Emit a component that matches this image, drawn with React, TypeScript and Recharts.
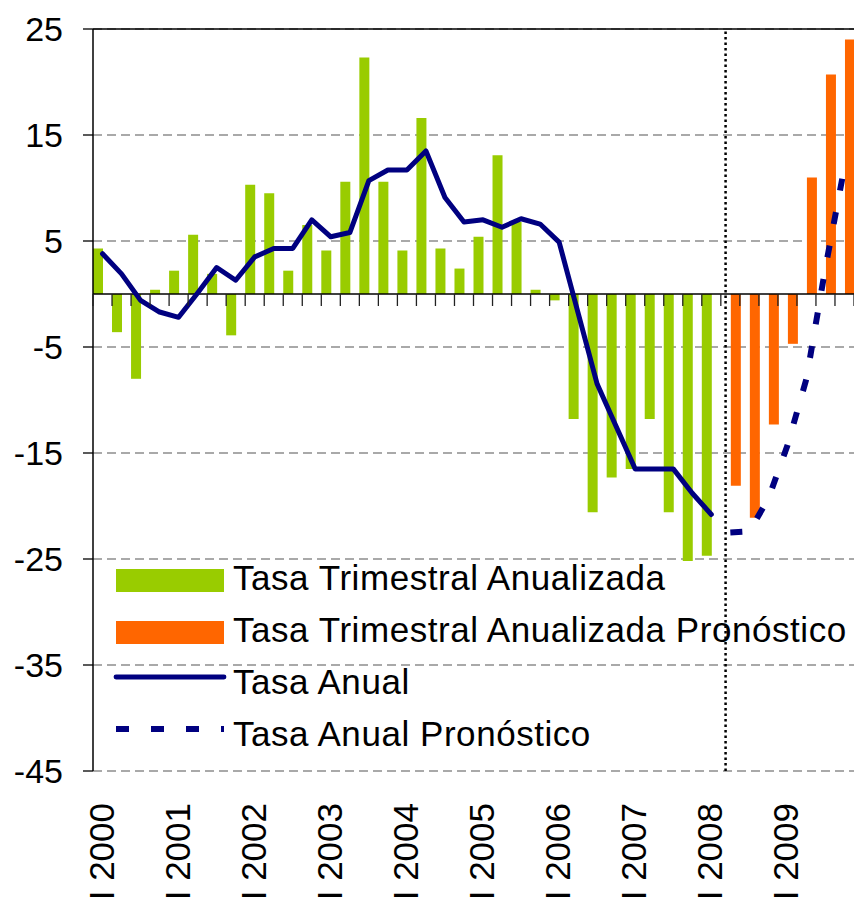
import React from 'react';
import { ComposedChart, Bar, Line, XAxis, YAxis, CartesianGrid, ReferenceLine } from 'recharts';

const FONT = '"Liberation Sans", Arial, sans-serif';

const years = [2000, 2001, 2002, 2003, 2004, 2005, 2006, 2007, 2008, 2009];
const quarterNames = ['I', 'II', 'III', 'IV'];
const categories = years.flatMap((y) => quarterNames.map((q) => `${q} ${y}`));

// Tasa Trimestral Anualizada (historical, 2000 I – 2008 I)
const tasaTrimestral = [
  4.3, -3.6, -8.0, 0.4, 2.2, 5.6, 1.9, -3.9, 10.3, 9.5, 2.2, 6.5, 4.1, 10.6, 22.3, 10.6,
  4.1, 16.6, 4.3, 2.4, 5.4, 13.1, 6.8, 0.4, -0.6, -11.8, -20.6, -17.3, -16.5, -11.8, -20.6,
  -25.2, -24.7,
];
// Tasa Trimestral Anualizada Pronóstico (2008 II – 2009 IV)
const tasaTrimestralPron = [-18.1, -21.1, -12.3, -4.7, 11.0, 20.7, 24.0];
// Tasa Anual (historical)
const tasaAnual = [
  3.8, 1.9, -0.6, -1.7, -2.2, 0.1, 2.5, 1.3, 3.5, 4.3, 4.3, 7.0, 5.4, 5.8, 10.7, 11.7,
  11.7, 13.5, 9.1, 6.8, 7.0, 6.3, 7.1, 6.6, 4.9, -1.8, -8.5, -12.5, -16.5, -16.5, -16.5,
  -18.8, -20.8,
];
// Tasa Anual Pronóstico
const tasaAnualPron = [-22.5, -22.4, -19.3, -14.3, -8.0, 2.5, 12.0];

const yTicks = [-45, -35, -25, -15, -5, 5, 15, 25];
const forecastSeparator = 33.25; // on the category-index scale

const histCount = tasaTrimestral.length;

const data = categories.map((cat, i) => ({
  cat,
  pos: i + 0.5,
  trim: i < histCount ? tasaTrimestral[i] : null,
  trimP: i >= histCount ? tasaTrimestralPron[i - histCount] : null,
  anual: i < histCount ? tasaAnual[i] : null,
  anualP: i >= histCount ? tasaAnualPron[i - histCount] : null,
  zero: 0,
}));

const legendItems = [
  { label: 'Tasa Trimestral Anualizada', kind: 'rect', color: '#99CC00' },
  { label: 'Tasa Trimestral Anualizada Pronóstico', kind: 'rect', color: '#FF6600' },
  { label: 'Tasa Anual', kind: 'line', color: '#000080' },
  { label: 'Tasa Anual Pronóstico', kind: 'dash', color: '#000080' },
];

const XTick = (props: any) => {
  const { x, y, payload } = props;
  return (
    <text
      x={0}
      y={0}
      transform={`translate(${x + 11},${y + 32}) rotate(-90)`}
      textAnchor="end"
      fontSize={35}
      fontFamily={FONT}
      fill="#000"
    >
      {payload.value}
    </text>
  );
};

// Category-boundary tick marks hanging below the zero axis line
const ZeroDot = (props: any) => {
  const { cx, cy, index, points } = props;
  if (cx == null || cy == null || !points || points.length < 2) return null;
  const step = points[1].x - points[0].x;
  const xs = [cx - step / 2];
  if (index === points.length - 1) xs.push(cx + step / 2);
  return (
    <g key={`zt-${index}`}>
      {xs.map((xx, k) => (
        <line key={k} x1={xx} y1={cy} x2={xx} y2={cy + 12} stroke="#222" strokeWidth={1.3} />
      ))}
    </g>
  );
};

const LegendBox = () => (
  <div
    style={{
      position: 'absolute',
      left: 116,
      top: 552,
      fontFamily: FONT,
      fontSize: 35,
      letterSpacing: '0.55px',
      color: '#000',
      pointerEvents: 'none',
    }}
  >
    {legendItems.map((it) => (
      <div key={it.label} style={{ display: 'flex', alignItems: 'center', height: 52, lineHeight: '52px', whiteSpace: 'nowrap' }}>
        <div style={{ width: 108, height: 24, marginRight: 9, position: 'relative', top: 3 }}>
          {it.kind === 'rect' && <div style={{ width: 108, height: 23, background: it.color }} />}
          {it.kind === 'line' && (
            <svg width={108} height={24} style={{ overflow: 'visible', display: 'block' }}>
              <line x1={0} y1={4} x2={108} y2={4} stroke={it.color} strokeWidth={4.8} strokeLinecap="round" />
            </svg>
          )}
          {it.kind === 'dash' && (
            <svg width={108} height={24} style={{ overflow: 'visible', display: 'block' }}>
              <line x1={0} y1={4} x2={108} y2={4} stroke={it.color} strokeWidth={6} strokeDasharray="13 22" />
            </svg>
          )}
        </div>
        <span>{it.label}</span>
      </div>
    ))}
  </div>
);

export default function App() {
  return (
    <div style={{ position: 'absolute', left: 0, top: 0, width: 854, height: 902, background: '#fff' }}>
      <ComposedChart
        width={854}
        height={902}
        data={data}
        margin={{ top: 29, right: 0, bottom: 0, left: 0 }}
        barCategoryGap={0}
        barGap={0}
      >
        <CartesianGrid vertical={false} stroke="#555" strokeDasharray="9 5" strokeWidth={1.2} />
        <XAxis
          dataKey="cat"
          interval={3}
          axisLine={false}
          tickLine={false}
          tickSize={0}
          tickMargin={0}
          height={131}
          tick={<XTick />}
        />
        <XAxis xAxisId="n" type="number" dataKey="pos" domain={[0, 40]} hide allowDataOverflow />
        <YAxis
          type="number"
          width={93}
          domain={[-45, 25]}
          ticks={yTicks}
          interval={0}
          allowDataOverflow
          tick={{ fontSize: 34, fill: '#000', fontFamily: FONT }}
          tickSize={10}
          tickMargin={20}
          axisLine={{ stroke: '#000', strokeWidth: 1.5 }}
          tickLine={{ stroke: '#000', strokeWidth: 1.3 }}
        />
        <Bar dataKey="trim" fill="#99CC00" isAnimationActive={false} />
        <Bar dataKey="trimP" fill="#FF6600" isAnimationActive={false} />
        <ReferenceLine y={25} stroke="#000" strokeWidth={1.5} />
        <ReferenceLine y={0} stroke="#000" strokeWidth={1.5} />
        <Line
          type="linear"
          dataKey="zero"
          stroke="none"
          dot={<ZeroDot />}
          activeDot={false}
          isAnimationActive={false}
          legendType="none"
        />
        <ReferenceLine xAxisId="n" x={forecastSeparator} stroke="#000" strokeWidth={2.5} strokeDasharray="2.5 3" />
        <Line
          type="linear"
          dataKey="anual"
          stroke="#000080"
          strokeWidth={5}
          strokeLinejoin="round"
          strokeLinecap="round"
          dot={false}
          activeDot={false}
          isAnimationActive={false}
        />
        <Line
          type="linear"
          dataKey="anualP"
          stroke="#000080"
          strokeWidth={6}
          strokeDasharray="12 22"
          dot={false}
          activeDot={false}
          isAnimationActive={false}
        />
      </ComposedChart>
      <LegendBox />
    </div>
  );
}
